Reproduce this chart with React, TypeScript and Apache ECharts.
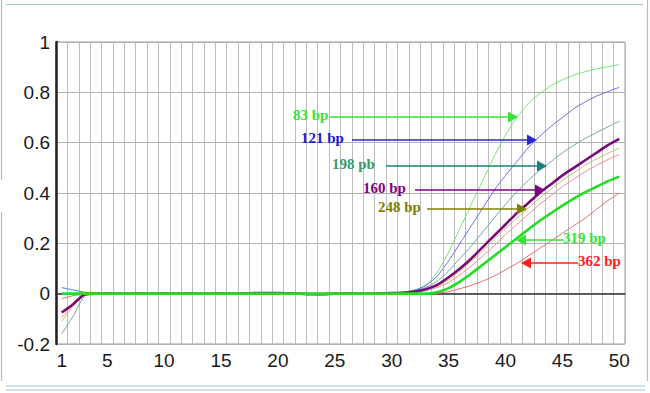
import React, { useEffect, useRef } from "react";
import * as echarts from "echarts";

const cycles: string[] = [
  "1","2","3","4","5","6","7","8","9","10",
  "11","12","13","14","15","16","17","18","19","20",
  "21","22","23","24","25","26","27","28","29","30",
  "31","32","33","34","35","36","37","38","39","40",
  "41","42","43","44","45","46","47","48","49","50",
];

const yTicks = [-0.2, 0, 0.2, 0.4, 0.6, 0.8, 1];

const green83 = [
  0,0,0,0,0,0,0,0,0,0,
  0,0,0,0,0,0,0,0,0,0,
  0,0,0,0,0,0,0,0,0,0.001,
  0.004,0.012,0.035,0.085,0.165,0.26,0.355,0.45,0.545,0.63,
  0.70,0.755,0.795,0.827,0.85,0.868,0.882,0.893,0.902,0.91,
];
const blue121 = [
  0.024,0.015,0.006,0.001,0,0,0,0,0,-0.002,
  -0.003,-0.002,0,0,0,0,0,0,0,0,
  0,0,0,0,0,0,0.001,0.001,0.002,0.003,
  0.006,0.014,0.032,0.07,0.13,0.20,0.27,0.34,0.41,0.47,
  0.525,0.58,0.625,0.665,0.70,0.735,0.762,0.785,0.803,0.82,
];
const teal198 = [
  -0.16,-0.09,-0.01,0,0,0,0,0,0,0,
  0,0,0,0,0,0,0,0,0,0,
  0,0,0,0,0,0,0,0,0.001,0.002,
  0.004,0.01,0.025,0.05,0.09,0.14,0.19,0.245,0.30,0.355,
  0.405,0.45,0.49,0.525,0.56,0.59,0.617,0.64,0.663,0.685,
];
const purple160 = [
  -0.075,-0.042,-0.003,0,0,0,0,0,0,0,
  0,0,0,0,0,0,0,0.002,0.002,0.002,
  0.001,0,-0.002,-0.002,0,0,0,0,0.001,0.002,
  0.003,0.008,0.018,0.035,0.065,0.10,0.14,0.185,0.23,0.275,
  0.32,0.36,0.40,0.435,0.47,0.50,0.53,0.56,0.59,0.615,
];
const olive248 = [
  -0.11,-0.05,-0.005,0,0,0,0,0,0,0,
  0,0,0,0,0,0,0,0,0,0,
  0,0,0,0,0,0,0,0,0,0.001,
  0.003,0.007,0.015,0.03,0.055,0.09,0.13,0.17,0.215,0.26,
  0.30,0.34,0.38,0.415,0.45,0.48,0.51,0.535,0.558,0.578,
];
const pinkExtra = [
  -0.095,-0.045,-0.004,0,0,0,0,0,0,0,
  0,0,0,0,0,0,0,0,0,0,
  0,0,-0.002,-0.002,-0.001,0,0,0,0,0.001,
  0.002,0.005,0.012,0.025,0.045,0.075,0.11,0.15,0.19,0.235,
  0.275,0.315,0.355,0.39,0.425,0.455,0.485,0.51,0.533,0.553,
];
const green319 = [
  0,0,0,0,0,0,0,0,0,0,
  0,0,0,0,0,0,0,0,0,0,
  0,0,0,0,0,0,0,0,0,0,
  0,0,0,0.006,0.022,0.048,0.08,0.115,0.15,0.185,
  0.22,0.255,0.29,0.32,0.35,0.378,0.403,0.425,0.447,0.465,
];
const red362 = [
  -0.02,-0.008,-0.002,0,0,0,0,0,0,0,
  0,0,0,0,0,0,0,0,0,0,
  0,0,0,0,0,0,0,0,0,0,
  0,0,0,0.002,0.008,0.02,0.033,0.05,0.07,0.095,
  0.12,0.15,0.18,0.21,0.24,0.27,0.30,0.335,0.37,0.40,
];

const seriesNames = ["83 bp", "121 bp", "198 pb", "pink", "248 bp", "362 bp", "160 bp", "319 bp"];
const seriesData = [green83, blue121, teal198, pinkExtra, olive248, red362, purple160, green319];
const seriesColors = ["#6ee86e", "#6a6aee", "#6aa8a8", "#f58a8a", "#c9bb78", "#f06a6a", "#7a0a7a", "#22dd22"];
const seriesWidths = [1, 1, 1, 1, 1, 1, 2.6, 2.6];

// annotation labels: text, text colour, arrow colour, text left x, y, arrow tip x, direction
const annLabels = ["83 bp", "121 bp", "198 pb", "160 bp", "248 bp", "319 bp", "362 bp"];
const annTextColors = ["#33e633", "#1a1acc", "#3a9a6a", "#800080", "#808000", "#33e633", "#ff2020"];
const annArrowColors = ["#33e633", "#2a2acc", "#1a8080", "#800080", "#808000", "#33e633", "#ff2020"];
const annTextX = [293, 301, 332, 363, 378, 563, 578];
const annY = [117, 140, 166, 190, 209, 240, 263];
const annLineStart = [330, 352, 386, 415, 427, 563, 578];
const annTip = [518, 537, 547, 545, 527, 516, 521];

export default function App() {
  const ref = useRef<HTMLDivElement>(null);
  useEffect(() => {
    document.body.style.margin = "0";
    if (!ref.current) return;
    const chart = echarts.init(ref.current, undefined, { renderer: "svg" });

    const graphics: any[] = [];
    annLabels.forEach((t, i) => {
      const y = annY[i];
      const tip = annTip[i];
      const start = annLineStart[i];
      const dir = tip > start ? 1 : -1;
      graphics.push({
        type: "text",
        left: annTextX[i],
        top: y - 10,
        z: 100,
        style: {
          text: t,
          fill: annTextColors[i],
          font: "bold 15px 'Liberation Serif', 'Times New Roman', serif",
        },
      });
      graphics.push({
        type: "line",
        z: 99,
        shape: { x1: start, y1: y, x2: tip - dir * 8, y2: y },
        style: { stroke: annArrowColors[i], lineWidth: 1.5 },
      });
      graphics.push({
        type: "polygon",
        z: 99,
        shape: {
          points: [
            [tip, y],
            [tip - dir * 10, y - 5.5],
            [tip - dir * 10, y + 5.5],
          ],
        },
        style: { fill: annArrowColors[i] },
      });
    });

    const frameColor = "#9fc2dd";
    graphics.push(
      { type: "line", shape: { x1: 6, y1: 4.5, x2: 643, y2: 4.5 }, style: { stroke: frameColor, lineWidth: 1.2 } },
      { type: "line", shape: { x1: 647.5, y1: 0, x2: 647.5, y2: 381 }, style: { stroke: frameColor, lineWidth: 1.2 } },
      { type: "line", shape: { x1: 1.5, y1: 0, x2: 1.5, y2: 180 }, style: { stroke: frameColor, lineWidth: 1.2 } },
      { type: "line", shape: { x1: 1.5, y1: 212, x2: 1.5, y2: 381 }, style: { stroke: frameColor, lineWidth: 1.2 } },
      { type: "line", shape: { x1: 6, y1: 386, x2: 645, y2: 386 }, style: { stroke: frameColor, lineWidth: 1.2 } },
      { type: "line", shape: { x1: 6, y1: 390, x2: 645, y2: 390 }, style: { stroke: frameColor, lineWidth: 1.2 } }
    );

    chart.setOption({
      animation: false,
      backgroundColor: "#ffffff",
      grid: {
        left: 56,
        right: 25,
        top: 42,
        bottom: 49,
        show: true,
        borderColor: "#999999",
        borderWidth: 1,
      },
      xAxis: {
        type: "category",
        data: cycles,
        boundaryGap: true,
        axisLine: { show: true, lineStyle: { color: "#333333", width: 1.5 } },
        axisTick: { show: false },
        axisLabel: {
          interval: (idx: number, val: string) => val === "1" || Number(val) % 5 === 0,
          color: "#1a1a1a",
          fontSize: 19,
          fontFamily: "'Liberation Sans', Arial, sans-serif",
          margin: 7,
        },
        splitLine: { show: true, interval: 0, lineStyle: { color: "#bdbdbd", width: 1 } },
      },
      yAxis: {
        type: "value",
        min: yTicks[0],
        max: yTicks[yTicks.length - 1],
        interval: 0.2,
        axisLine: { show: true, lineStyle: { color: "#222222", width: 2.5 } },
        axisTick: { show: false },
        axisLabel: {
          color: "#1a1a1a",
          fontSize: 19,
          fontFamily: "'Liberation Sans', Arial, sans-serif",
          margin: 6,
          formatter: (v: number) => String(Math.round(v * 10) / 10),
        },
        splitLine: { show: true, lineStyle: { color: "#b0b0b0", width: 1 } },
      },
      series: seriesData.map((d, i) => ({
        name: seriesNames[i],
        type: "line",
        data: d,
        smooth: 0.2,
        symbol: "none",
        z: 2 + i,
        lineStyle: { color: seriesColors[i], width: seriesWidths[i] },
      })),
      graphic: graphics,
    });

    return () => chart.dispose();
  }, []);
  return <div ref={ref} style={{ width: 650, height: 393 }} />;
}
